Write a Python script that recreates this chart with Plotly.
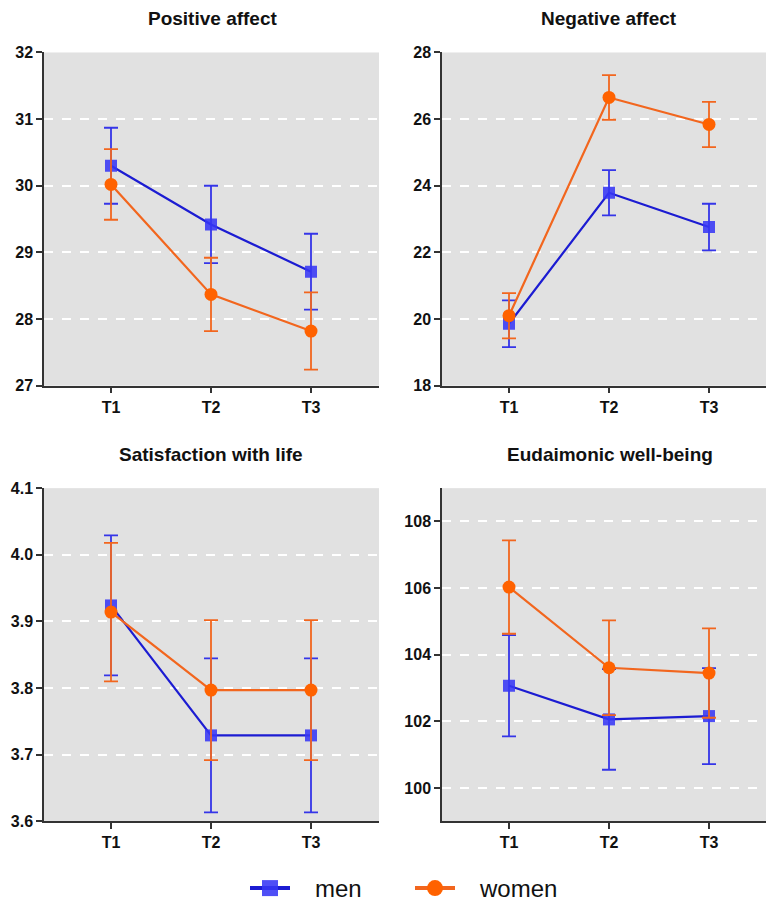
import plotly.graph_objects as go

times = ["T1", "T2", "T3"]

panels = ["Positive affect", "Negative affect", "Satisfaction with life", "Eudaimonic well-being"]

pa_men = [30.30, 29.42, 28.71]
pa_men_err = [0.57, 0.58, 0.57]
pa_women = [30.02, 28.37, 27.82]
pa_women_err = [0.53, 0.55, 0.58]

na_men = [19.86, 23.79, 22.76]
na_men_err = [0.70, 0.68, 0.70]
na_women = [20.10, 26.65, 25.84]
na_women_err = [0.68, 0.67, 0.68]

swl_men = [3.924, 3.729, 3.729]
swl_men_err = [0.105, 0.1155, 0.1155]
swl_women = [3.914, 3.797, 3.797]
swl_women_err = [0.104, 0.105, 0.105]

ewb_men = [103.07, 102.06, 102.16]
ewb_men_err = [1.52, 1.51, 1.44]
ewb_women = [106.03, 103.61, 103.45]
ewb_women_err = [1.40, 1.42, 1.34]

y_ranges = [[27, 32], [18, 28], [3.6, 4.1], [99, 109]]
y_dticks = [1, 2, 0.1, 2]
y_tick0 = [27, 18, 3.6, 100]
y_formats = ["d", "d", ".1f", "d"]

data = [
    (pa_men, pa_men_err, pa_women, pa_women_err),
    (na_men, na_men_err, na_women, na_women_err),
    (swl_men, swl_men_err, swl_women, swl_women_err),
    (ewb_men, ewb_men_err, ewb_women, ewb_women_err),
]

W, H = 766, 911
men_line = "#1c1cd2"
men_marker = "rgba(55,55,245,0.88)"
women_line = "#f2661e"
women_marker = "#ff6200"
FONT = "Liberation Sans, Arial, sans-serif"


def vy(px):
    # vertical placement correction (observed render offset/scale)
    return (px - 8.3) / 0.97


fig = go.Figure()

# pixel layout of panels: (left, right, top, bottom)
boxes = [(44, 379, 53, 388), (442, 766, 53, 388), (44, 379, 491, 826), (442, 766, 491, 826)]

for i, (m, me, w, we) in enumerate(data):
    xa = "x" if i == 0 else f"x{i+1}"
    ya = "y" if i == 0 else f"y{i+1}"
    fig.add_trace(go.Scatter(
        x=times, y=m, xaxis=xa, yaxis=ya, name="men", mode="lines+markers",
        line=dict(color=men_line, width=2.2),
        marker=dict(symbol="square", size=12, color=men_marker),
        error_y=dict(type="data", array=me, visible=True, color="#3535e8", thickness=1.8, width=7),
        showlegend=False,
    ))
    fig.add_trace(go.Scatter(
        x=times, y=w, xaxis=xa, yaxis=ya, name="women", mode="lines+markers",
        line=dict(color=women_line, width=2.2),
        marker=dict(symbol="circle", size=13, color=women_marker),
        error_y=dict(type="data", array=we, visible=True, color=women_line, thickness=1.8, width=7),
        showlegend=False,
    ))

# legend entries (larger symbols, as in the reference legend)
NB = "\u00a0"
fig.add_trace(go.Scatter(
    x=[None], y=[None], name=NB * 3 + "men", mode="lines+markers",
    line=dict(color=men_line, width=4),
    marker=dict(symbol="square", size=16, color=men_marker),
))
fig.add_trace(go.Scatter(
    x=[None], y=[None], name=NB * 3 + "women", mode="lines+markers",
    line=dict(color=women_line, width=4),
    marker=dict(symbol="circle", size=16, color=women_marker),
))

layout = {}
for i, (l, r, t, b) in enumerate(boxes):
    xk = "xaxis" if i == 0 else f"xaxis{i+1}"
    yk = "yaxis" if i == 0 else f"yaxis{i+1}"
    xa = "x" if i == 0 else f"x{i+1}"
    ya = "y" if i == 0 else f"y{i+1}"
    width_px = r - l
    layout[xk] = dict(
        domain=[l / W, r / W], anchor=ya, type="category",
        range=[-0.67, -0.67 + width_px / 100.0],
        showgrid=False, showline=True, linecolor="#333333", linewidth=1.5,
        ticks="outside", ticklen=6, tickcolor="#333333", tickwidth=1.5,
        tickfont=dict(family=FONT, size=16, color="#111111", weight="bold"),
        zeroline=False, fixedrange=True,
    )
    layout[yk] = dict(
        domain=[1 - vy(b) / H, 1 - vy(t) / H], anchor=xa,
        range=y_ranges[i], tick0=y_tick0[i], dtick=y_dticks[i], tickformat=y_formats[i],
        showgrid=True, gridcolor="white", griddash="dash", gridwidth=1.5,
        showline=True, linecolor="#333333", linewidth=1.5,
        ticks="outside", ticklen=6, tickcolor="#333333", tickwidth=1.5,
        tickfont=dict(family=FONT, size=16, color="#111111", weight="bold"),
        zeroline=False, fixedrange=True,
    )

fig.update_layout(**layout)

title_pos = [(212, 19), (609, 19), (211, 457), (610, 457)]
for name, (cx, cy) in zip(panels, title_pos):
    fig.add_annotation(
        text=f"<b>{name}</b>", xref="paper", yref="paper",
        x=cx / W, y=1 - vy(cy) / H, showarrow=False, xanchor="center", yanchor="middle",
        font=dict(family=FONT, size=19, color="#111111"),
    )

fig.update_layout(
    width=W, height=H,
    margin=dict(l=0, r=0, t=0, b=0),
    paper_bgcolor="white",
    plot_bgcolor="#e1e1e1",
    legend=dict(
        orientation="h", x=245 / W, y=1 - 913 / H, xanchor="left", yanchor="middle",
        font=dict(family=FONT, size=24, color="#111111"),
        itemwidth=40, entrywidth=110, entrywidthmode="pixels",
        bgcolor="rgba(0,0,0,0)",
    ),
)

post = (
    "document.documentElement.style.margin='0';"
    "document.body.style.margin='0';"
    "document.body.style.overflow='hidden';"
    "var gd=document.getElementById('{plot_id}');"
    "gd.style.position='fixed';gd.style.top='0px';gd.style.left='0px';"
)

fig.write_html(
    "out.html",
    config={"displayModeBar": False, "responsive": False},
    post_script=post,
)
